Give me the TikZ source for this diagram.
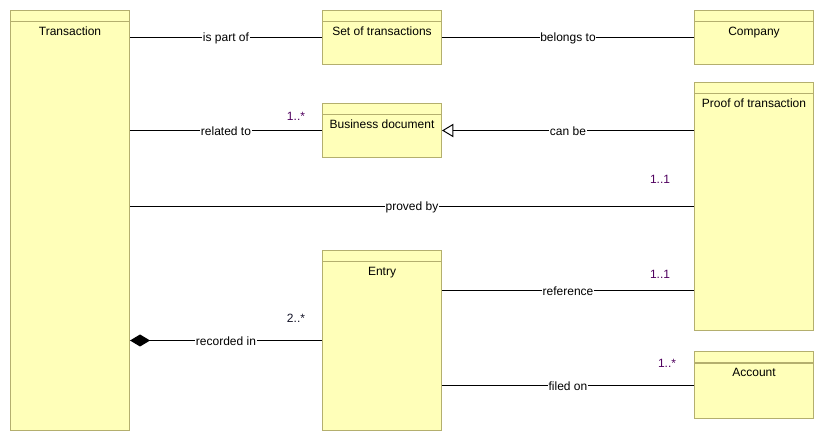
\documentclass[tikz,border=0pt]{standalone}
\usepackage{fontspec}
\setmainfont{Liberation Sans}
\usetikzlibrary{arrows.meta}
\definecolor{clsfill}{RGB}{255,255,185}
\definecolor{clsborder}{RGB}{180,175,110}
\definecolor{multcol}{RGB}{80,0,95}
\definecolor{multdark}{RGB}{20,20,40}
\tikzset{
  cls/.style={draw=clsborder, fill=clsfill, line width=0.75pt, anchor=north west, minimum width=89.25pt, inner sep=0pt},
  hdr/.style={draw=clsborder, line width=0.75pt},
  ttl/.style={font=\fontsize{9pt}{10pt}\selectfont, anchor=base, inner sep=0pt},
  assoc/.style={draw=black, line width=0.75pt},
  lbl/.style={font=\fontsize{9pt}{10pt}\selectfont, fill=white, inner sep=0.6pt, yshift=-0.6pt},
  mult/.style={font=\fontsize{9pt}{10pt}\selectfont, text=multcol, inner sep=0pt},
}
\begin{document}
\begin{tikzpicture}[x=0.75pt, y=-0.75pt]
\useasboundingbox[fill=white] (0,0) rectangle (824,441);
% classes
\node[cls, minimum height=315pt] (T) at (10,10) {};
\node[cls, minimum height=40.5pt] (S) at (322,10) {};
\node[cls, minimum height=40.5pt] (C) at (694,10) {};
\node[cls, minimum height=40.5pt] (B) at (322,103) {};
\node[cls, minimum height=186pt] (P) at (694,82) {};
\node[cls, minimum height=135pt] (E) at (322,250) {};
\node[cls, minimum height=50.25pt] (A) at (694,351) {};
% header lines and titles
\foreach \n/\t in {T/Transaction, S/Set of transactions, C/Company, B/Business document, P/Proof of transaction, E/Entry, A/Account}{
  \draw[hdr] ([yshift=-9pt]\n.north west) -- ([yshift=-9pt]\n.north east);
  \node[ttl] (\n-title) at ([yshift=-19pt]\n.north) {\t};
}
\coordinate (r) at (0,290.5);
% associations
\draw[assoc] (T.east |- S.west) -- node[lbl] {is part of} (S.west);
\draw[assoc] (S.east) -- node[lbl] {belongs to} (C.west);
\draw[assoc] (T.east |- B.west) -- node[lbl] {related to} (B.west);
\draw[assoc, -{Triangle[open, length=8.5pt, width=10pt, fill=white]}] (P.west |- B.east) -- node[lbl] {can be} (B.east);
\draw[assoc] (T.east |- P.west) -- node[lbl] {proved by} (P.west);
\draw[assoc] (E.east |- r) -- node[lbl] {reference} (P.west |- r);
\draw[assoc, {Diamond[length=15pt, width=9pt]}-] (T.east |- E.west) -- node[lbl] {recorded in} (E.west);
\draw[assoc] (E.east |- A.west) -- node[lbl] {filed on} (A.west);
% multiplicities
\node[mult] (m1) at (296,116) {1..*};
\node[mult] (m2) at (660,179) {1..1};
\node[mult] (m3) at (660,274) {1..1};
\node[mult, text=multdark] (m4) at (296,318) {2..*};
\node[mult] (m5) at (667,363) {1..*};
\end{tikzpicture}
\end{document}
